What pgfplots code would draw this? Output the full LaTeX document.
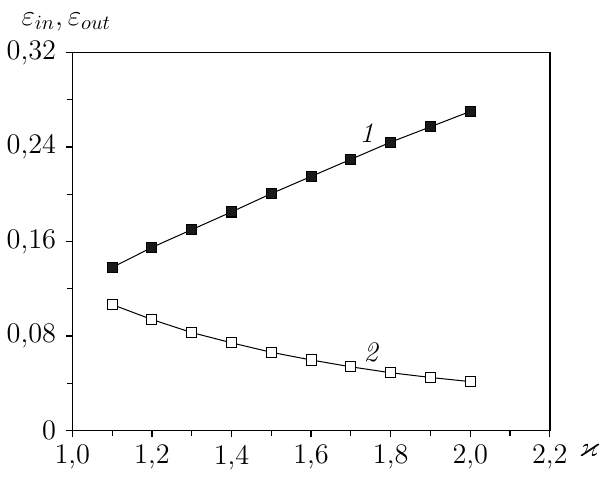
\documentclass[border=0pt]{standalone}
\usepackage{amssymb}
\usepackage{pgfplots}
\pgfplotsset{compat=1.18}
\begin{document}
\begin{tikzpicture}
\begin{axis}[
  scale only axis,
  width=236pt, height=187pt,
  xmin=1.0, xmax=2.2, ymin=0, ymax=0.32,
  xtick={1.0,1.2,1.4,1.6,1.8,2.0,2.2},
  xticklabels={{1,0},{1,2},{1,4},{1,6},{1,8},{2,0},{2,2}},
  ytick={0,0.08,0.16,0.24,0.32},
  yticklabels={0,{0,08},{0,16},{0,24},{0,32}},
  minor x tick num=1, minor y tick num=1,
  tick align=outside,
  xtick pos=bottom, ytick pos=left,
  major tick length=3pt, minor tick length=2.5pt,
  tick style={black, line width=0.6pt},
  axis line style={line width=0.7pt},
  ticklabel style={font=\fontsize{14}{16}\selectfont},
  yticklabel style={xshift=-1.5pt},
  xticklabel style={yshift=-0.5pt},
  clip=false,
]
\addplot[black, line width=0.5pt, mark=square*, mark size=2.5pt,
  mark options={fill=black!90}] coordinates {
  (1.1,0.138) (1.2,0.155) (1.3,0.170) (1.4,0.185) (1.5,0.2005)
  (1.6,0.215) (1.7,0.2295) (1.8,0.244) (1.9,0.257) (2.0,0.270)};
\addplot[black, line width=0.5pt, mark=square*, mark size=2.5pt,
  mark options={fill=white}] coordinates {
  (1.1,0.1067) (1.2,0.094) (1.3,0.083) (1.4,0.0743) (1.5,0.0663)
  (1.6,0.0598) (1.7,0.054) (1.8,0.049) (1.9,0.045) (2.0,0.0415)};
\node[font=\fontsize{14}{16}\selectfont\itshape] at (axis cs:1.74,0.252) {1};
\node[font=\fontsize{14}{16}\selectfont\itshape] at (axis cs:1.75,0.066) {2};
\node[font=\fontsize{14}{16}\selectfont, anchor=south] at ([xshift=-3pt,yshift=7pt]rel axis cs:0,1) {$\varepsilon_{in}, \varepsilon_{out}$};
\node[font=\fontsize{14}{16}\selectfont, anchor=west] at ([xshift=11pt,yshift=-10pt]rel axis cs:1,0) {$\varkappa$};
\end{axis}
\path ([yshift=3pt]current bounding box.north);
\end{tikzpicture}
\end{document}
